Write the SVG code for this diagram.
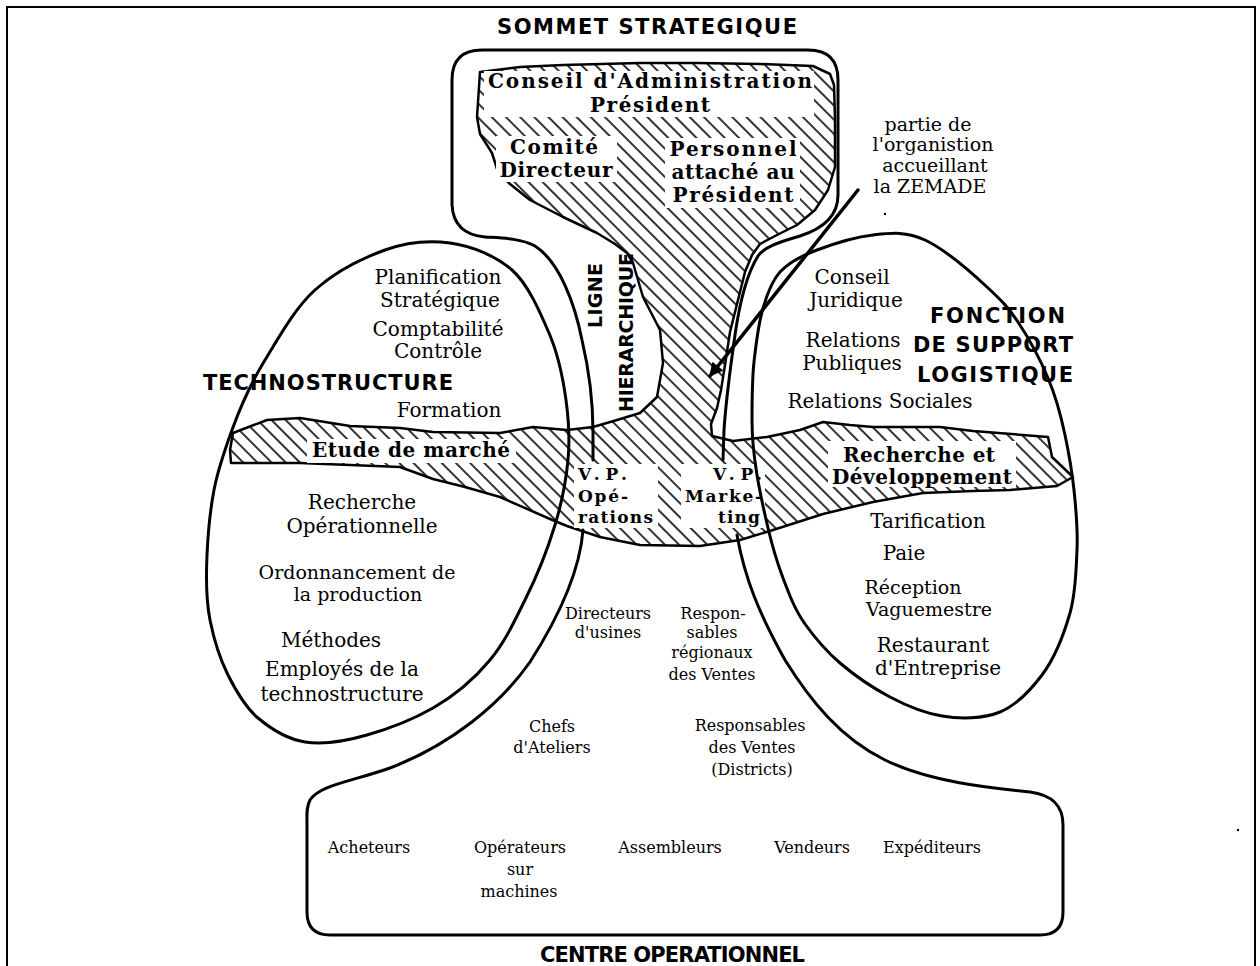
<svg xmlns="http://www.w3.org/2000/svg" width="1260" height="966" viewBox="0 0 1260 966">
<defs>
<pattern id="hatch" patternUnits="userSpaceOnUse" width="10" height="10" patternTransform="rotate(-45)"><line x1="5" y1="0" x2="5" y2="10" stroke="#000" stroke-width="1.6"/></pattern>
<marker id="ah" viewBox="0 0 10 10" refX="9" refY="5" markerWidth="5" markerHeight="4" orient="auto" markerUnits="strokeWidth"><path d="M0,0 L10,5 L0,10 z" fill="#000"/></marker>
<style>
.o{fill:none;stroke:#000;stroke-width:3;stroke-linejoin:round;stroke-linecap:round}
.h{fill:url(#hatch);stroke:#000;stroke-width:2.5;stroke-linejoin:round}
.w{fill:#fff}
.hd{font-family:"DejaVu Sans",sans-serif;font-weight:bold;font-size:21px;fill:#000}
.v{font-family:"DejaVu Sans",sans-serif;font-weight:bold;font-size:19px;fill:#000}
.b{font-family:"DejaVu Serif",serif;font-weight:bold;font-size:20px;text-anchor:middle;fill:#000}
.b2{font-family:"DejaVu Serif",serif;font-weight:bold;font-size:20px;text-anchor:middle;fill:#000}
.vp{font-family:"DejaVu Serif",serif;font-weight:bold;font-size:17px;fill:#000}
.r{font-family:"DejaVu Serif",serif;font-size:20px;text-anchor:middle;fill:#000}
.r9{font-family:"DejaVu Serif",serif;font-size:19px;text-anchor:middle;fill:#000}
.s{font-family:"DejaVu Serif",serif;font-size:16px;text-anchor:middle;fill:#000}
</style>
</defs>
<rect width="1260" height="966" fill="#fff"/>
<path d="M7,966 L7,7 L1255,7 L1255,966" fill="none" stroke="#000" stroke-width="2"/>

<g id="zone-hachuree">
<path class="h" d="M480,72 L520,67 L563,65 L640,63 L697,63 L760,64 L813,66 L830,74 L834,85 L835,120 L835,167 L828,190 L815,210 L797,225 L775,236 L760,244 L752,255 L745,272 L738,300 L730,332 L725,365 L721,390 L717,408 L711,424 L712,436 L733,441 L767,437 L800,430 L823,422 L850,425 L873,427 L940,427 L973,431 L1048,437 L1052,457 L1073,477 L1057,486 L1010,490 L973,491 L923,493 L873,502 L823,514 L773,530 L740,540 L700,546 L640,545 L600,537 L567,526 L550,519 L500,497 L465,487 L433,479 L400,467 L350,465 L300,463 L231,463 L230,450 L233,433 L267,420 L300,418 L350,426 L400,428 L433,432 L500,433 L533,427 L567,430 L593,427 L617,420 L640,413 L657,397 L663,363 L660,330 L643,297 L633,263 L627,253 L615,244 L597,233 L563,217 L530,200 L510,184 L498,172 L492,153 L480,134 L477,117 Z"/>
<rect class="w" x="484" y="71" width="330" height="46"/>
<rect class="w" x="496" y="136" width="121" height="46"/>
<rect class="w" x="665" y="138" width="135" height="70"/>
<rect class="w" x="307" y="439" width="209" height="24"/>
<rect class="w" x="828" y="441" width="188" height="46"/>
<rect class="w" x="574" y="464" width="84" height="64"/>
<rect class="w" x="681" y="464" width="84" height="64"/>
</g>

<g id="technostructure">
<path class="o" d="M450,243 C472,246 496,256 512,270 S540,312 549,333 S563,378 566,400 S570,439 568,460 S562,502 555,525 S536,578 525,600 S505,642 490,660 S454,696 433,708 S388,729 367,735 S323,745 305,742 S271,729 258,718 S236,691 228,675 S214,640 210,620 S206,577 207,555 S210,511 214,490 S224,452 232,430 S251,383 265,360 S295,308 315,290 S363,258 385,250 S428,240 450,243 Z"/>
<text class="hd" x="203" y="390" textLength="250" lengthAdjust="spacing">TECHNOSTRUCTURE</text>
<text class="r" x="438" y="284">Planification</text>
<text class="r" x="440" y="307">Stratégique</text>
<text class="r" x="438" y="336">Comptabilité</text>
<text class="r" x="438" y="358">Contrôle</text>
<text class="r" x="449" y="417">Formation</text>
<text class="b2" x="411" y="457" textLength="198" lengthAdjust="spacing">Etude de marché</text>
<text class="r" x="362" y="509">Recherche</text>
<text class="r" x="362" y="533">Opérationnelle</text>
<text class="r9" x="357" y="579">Ordonnancement de</text>
<text class="r9" x="358" y="601">la production</text>
<text class="r" x="331" y="647">Méthodes</text>
<text class="r" x="342" y="676">Employés de la</text>
<text class="r" x="342" y="701">technostructure</text>
</g>

<g id="support-logistique">
<path class="o" d="M873,235 C891,233 906,231 925,240 S972,273 987,287 S1008,307 1018,322 S1040,359 1048,378 S1061,416 1065,435 S1072,471 1074,490 S1078,530 1077,550 S1076,592 1070,613 S1054,659 1042,675 S1017,705 1000,712 S960,719 942,716 S907,706 890,697 S854,675 840,663 S815,638 805,624 S789,594 783,578 S772,545 768,528 S760,493 757,475 S752,439 752,420 S752,380 754,362 S758,327 762,312 S771,282 780,272 S801,256 817,250 S855,237 873,235 Z"/>
<text class="hd" x="930" y="323" textLength="135" lengthAdjust="spacing">FONCTION</text>
<text class="hd" x="913" y="352" textLength="160" lengthAdjust="spacing">DE SUPPORT</text>
<text class="hd" x="917" y="382" textLength="156" lengthAdjust="spacing">LOGISTIQUE</text>
<text class="r" x="852" y="284">Conseil</text>
<text class="r" x="856" y="307">Juridique</text>
<text class="r" x="853" y="347">Relations</text>
<text class="r" x="852" y="370">Publiques</text>
<text class="r" x="880" y="408">Relations Sociales</text>
<text class="b2" x="919" y="462" textLength="152" lengthAdjust="spacing">Recherche et</text>
<text class="b2" x="922" y="484" textLength="180" lengthAdjust="spacing">Développement</text>
<text class="r" x="928" y="528">Tarification</text>
<text class="r" x="904" y="560">Paie</text>
<text class="r9" x="913" y="594">Réception</text>
<text class="r9" x="929" y="616">Vaguemestre</text>
<text class="r" x="933" y="652">Restaurant</text>
<text class="r" x="938" y="675">d'Entreprise</text>
</g>

<g id="sommet-strategique">
<path class="o" d="M593,460 L593,432 C593,405 589,370 582,340 C575,305 560,262 535,246 C520,238 500,238 485,237 C462,235 453,222 452,205 L452,80 Q452,50 482,50 L808,50 Q838,50 838,80 L838,195 C838,215 825,228 800,236 C780,242 765,246 758,256 C748,272 740,300 735,335 C730,370 726,400 724,430 L723,460"/>
<text class="hd" x="497" y="34" textLength="300" lengthAdjust="spacing">SOMMET STRATEGIQUE</text>
<text class="b" x="650" y="88" textLength="324" lengthAdjust="spacing">Conseil d'Administration</text>
<text class="b" x="650" y="112" textLength="120" lengthAdjust="spacing">Président</text>
<text class="b" x="554" y="154" textLength="88" lengthAdjust="spacing">Comité</text>
<text class="b" x="556" y="177" textLength="113" lengthAdjust="spacing">Directeur</text>
<text class="b" x="733" y="156" textLength="127" lengthAdjust="spacing">Personnel</text>
<text class="b" x="733" y="179" textLength="123" lengthAdjust="spacing">attaché au</text>
<text class="b" x="733" y="202" textLength="121" lengthAdjust="spacing">Président</text>
</g>

<g id="ligne-hierarchique">
<text class="v" transform="translate(602,328) rotate(-90)" textLength="65" lengthAdjust="spacing">LIGNE</text>
<text class="v" transform="translate(633,412) rotate(-90)" textLength="159" lengthAdjust="spacing">HIERARCHIQUE</text>
<text class="vp" x="578" y="480" textLength="49" lengthAdjust="spacing">V.P.</text>
<text class="vp" x="578" y="502" textLength="50" lengthAdjust="spacing">Opé-</text>
<text class="vp" x="578" y="523" textLength="75" lengthAdjust="spacing">rations</text>
<text class="vp" x="713" y="480" textLength="49" lengthAdjust="spacing">V.P.</text>
<text class="vp" x="685" y="502" textLength="77" lengthAdjust="spacing">Marke-</text>
<text class="vp" x="718" y="523" textLength="42" lengthAdjust="spacing">ting</text>
<text class="s" x="608" y="619">Directeurs</text>
<text class="s" x="608" y="638">d'usines</text>
<text class="s" x="713" y="619">Respon-</text>
<text class="s" x="712" y="638">sables</text>
<text class="s" x="712" y="658">régionaux</text>
<text class="s" x="712" y="680">des Ventes</text>
<text class="s" x="552" y="732">Chefs</text>
<text class="s" x="552" y="753">d'Ateliers</text>
<text class="s" x="750" y="731">Responsables</text>
<text class="s" x="752" y="753">des Ventes</text>
<text class="s" x="752" y="775">(Districts)</text>
</g>

<g id="centre-operationnel">
<path class="o" d="M583,530 C580,570 560,615 530,662 C500,705 450,745 390,768 C350,782 320,785 310,800 C306,808 307,815 307,825 L307,912 Q307,935 330,935 L1040,935 Q1063,935 1063,912 L1063,825 C1063,805 1052,795 1030,792 C990,788 930,782 885,760 C840,738 810,700 785,660 C760,615 745,580 737,535"/>
<text class="s" x="369" y="853">Acheteurs</text>
<text class="s" x="520" y="853">Opérateurs</text>
<text class="s" x="520" y="875">sur</text>
<text class="s" x="519" y="897">machines</text>
<text class="s" x="670" y="853">Assembleurs</text>
<text class="s" x="812" y="853">Vendeurs</text>
<text class="s" x="932" y="853">Expéditeurs</text>
<text class="hd" x="540" y="962" textLength="265" lengthAdjust="spacing">CENTRE OPERATIONNEL</text>
</g>

<g id="zemade-label">
<text class="r9" x="928" y="131">partie de</text>
<text class="r9" x="933" y="151">l'organistion</text>
<text class="r9" x="935" y="172">accueillant</text>
<text class="r9" x="930" y="193">la ZEMADE</text>
<circle cx="885" cy="214" r="1.2" fill="#000"/>
<circle cx="1238" cy="830" r="1.2" fill="#000"/>
</g>

<g id="connecteurs">
<line x1="858" y1="190" x2="710" y2="376" stroke="#000" stroke-width="3.5" stroke-linecap="round" marker-end="url(#ah)"/>
</g>
</svg>
